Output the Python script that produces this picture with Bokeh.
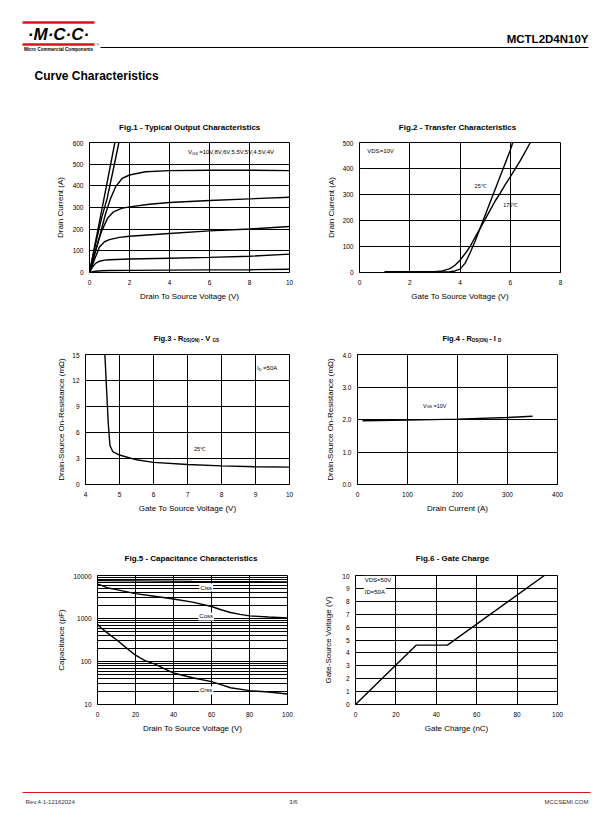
from bokeh.plotting import figure
from bokeh.models import Range1d, Label, FixedTicker, PrintfTickFormatter
from bokeh.layouts import column, row
from bokeh.embed import file_html
from bokeh.resources import INLINE

FONT = "Liberation Sans"

# ---------------- data ----------------
# Fig.1 Typical output characteristics (VDS in V, ID in A)
f1_xticks = [0, 2, 4, 6, 8, 10]
f1_yticks = [0, 100, 200, 300, 400, 500, 600]
vds_10v = [0, 0.6, 1.27]
id_10v = [0, 282, 600]
vds_8v = [0, 0.3, 0.6, 0.88, 1.2, 1.47]
id_8v = [0, 130, 250, 341, 480, 600]
vds_6v = [0, 0.5, 0.8, 1.05, 1.3, 1.63, 2, 2.8, 4, 6, 8, 10]
id_6v = [0, 165, 270, 341, 395, 434, 450, 465, 470, 472, 472, 470]
vds_55v = [0, 0.3, 0.6, 0.9, 1.2, 1.6, 2, 3, 4, 6, 8, 10]
id_55v = [0, 100, 190, 250, 280, 296, 303, 315, 323, 332, 340, 347]
vds_5v = [0, 0.25, 0.5, 0.75, 1, 1.5, 2, 4, 6, 8, 10]
id_5v = [0, 60, 118, 142, 152, 162, 167, 180, 192, 201, 212]
vds_45v = [0, 0.15, 0.3, 0.5, 0.75, 1, 2, 4, 6, 8, 10]
id_45v = [0, 25, 42, 52, 57, 59, 62, 66, 70, 75, 85]
vds_4v = [0, 0.3, 0.6, 1, 2, 4, 6, 8, 10]
id_4v = [0, 6, 8, 9, 10, 11, 12, 13, 15]

# Fig.2 Transfer characteristics (VGS in V, ID in A)
f2_xticks = [0, 2, 4, 6, 8]
f2_yticks = [0, 100, 200, 300, 400, 500]
vgs_25c = [1, 3, 3.6, 3.8, 4.0, 4.2, 4.4, 4.6, 4.8, 5.0, 5.2, 5.4, 5.6, 5.8, 6.0, 6.1]
id_25c = [2, 2, 3, 6, 13, 35, 75, 120, 170, 220, 270, 320, 370, 420, 470, 500]
vgs_175c = [1, 3, 3.3, 3.6, 3.8, 4.0, 4.2, 4.4, 4.6, 4.8, 5.0, 5.2, 5.4, 5.6, 5.8, 6.0, 6.4, 6.8]
id_175c = [3, 3, 6, 15, 28, 47, 72, 100, 135, 170, 205, 240, 275, 305, 338, 368, 430, 500]

# Fig.3 RDS(ON) vs VGS (V, mOhm)
f3_xticks = [4, 5, 6, 7, 8, 9, 10]
f3_yticks = [0, 3, 6, 9, 12, 15]
f3_vgs = [4.57, 4.62, 4.67, 4.72, 4.8, 5.0, 5.5, 6, 7, 8, 9, 10]
f3_rds = [15, 11, 7, 4.5, 3.8, 3.4, 2.85, 2.55, 2.3, 2.15, 2.05, 2.0]

# Fig.4 RDS(ON) vs ID (A, mOhm)
f4_xticks = [0, 100, 200, 300, 400]
f4_yticks = [0, 1, 2, 3, 4]
f4_id = [10, 100, 200, 300, 350]
f4_rds = [1.96, 1.98, 2.01, 2.06, 2.1]

# Fig.5 Capacitance (VDS in V, pF)
f5_xticks = [0, 20, 40, 60, 80, 100]
f5_yticks = [10, 100, 1000, 10000]
ciss_v = [0, 20, 50, 100]
ciss_pf = [7600, 7500, 7300, 7100]
coss_v = [0, 5, 10, 20, 30, 40, 50, 60, 65, 70, 75, 80, 90, 100]
coss_pf = [6400, 5200, 4700, 3800, 3300, 2850, 2400, 1900, 1600, 1380, 1250, 1150, 1080, 1030]
crss_v = [0, 2, 5, 10, 15, 20, 25, 30, 35, 40, 50, 60, 65, 70, 80, 90, 100]
crss_pf = [730, 600, 470, 320, 210, 140, 105, 88, 68, 54, 42, 34, 29, 24.5, 21, 19.5, 17.5]

# Fig.6 Gate charge (nC, V)
f6_xticks = [0, 20, 40, 60, 80, 100]
f6_yticks = list(range(0, 11))
qg_nc = [0, 30, 45.5, 93.5]
vgs_v = [0, 4.6, 4.6, 10]

# ---------------- text metrics (Arial-like, per 1000 em) ----------------
W_NORMAL = {"V": 667, "G": 778, "S": 667, "D": 722, "I": 278, "=": 584, ",": 278,
            ".": 278, "A": 667, " ": 278, "-": 333}
W_BOLD = {"F": 611, "i": 278, "g": 611, ".": 278, " ": 278, "-": 333, "R": 722,
          "D": 722, "S": 667, "(": 333, ")": 333, "O": 778, "N": 722, "V": 667,
          "G": 778, "I": 278}


def text_w(t, size, bold):
    tab = W_BOLD if bold else W_NORMAL
    return sum(tab.get(c, 556) for c in t) * size / 1000.0


def add_text(p, x, y, text, size, bold=False, align="left", units="data",
             xo=0, yo=0, bg=None, color="black", italic=False):
    style = "bold" if bold else "normal"
    if italic:
        style = "bold italic" if bold else "italic"
    lab = Label(x=x, y=y, x_units=units, y_units=units, text=text,
                text_font=FONT, text_font_size=f"{size}px", text_font_style=style,
                text_align=align, text_baseline="middle", x_offset=xo, y_offset=yo,
                text_color=color)
    if bg is not None:
        lab.background_fill_color = bg
        lab.padding = 1
    p.add_layout(lab)


def add_composite(p, x, y, pieces, units="data", align="left"):
    # subscript pieces (dy != 0) get a little extra room after them
    widths = [text_w(t, s, b) + (1.3 if dy else 0) for (t, s, b, dy) in pieces]
    off = -sum(widths) / 2.0 if align == "center" else 0.0
    for (t, s, b, dy), w in zip(pieces, widths):
        add_text(p, x, y, t, s, b, "left", units, xo=off, yo=dy)
        off += w


def make_fig(w, h, left, right, top, bottom, xr, yr, xticks, yticks, xlabel, ylabel,
             ystand, y_log=False):
    p = figure(width=w, height=h, x_range=Range1d(*xr), y_range=Range1d(*yr),
               y_axis_type="log" if y_log else "linear",
               output_backend="svg", toolbar_location=None, title=None,
               min_border_left=left, min_border_right=right,
               min_border_top=top, min_border_bottom=bottom)
    p.outline_line_color = "black"
    p.outline_line_width = 1
    p.outline_line_alpha = 1
    p.border_fill_color = "white"
    p.background_fill_color = "white"
    p.xaxis.ticker = FixedTicker(ticks=xticks)
    if y_log:
        minors = [m * 10 ** k for k in range(1, 4) for m in range(2, 10)]
        p.yaxis.ticker = FixedTicker(ticks=yticks, minor_ticks=minors)
        p.yaxis.formatter = PrintfTickFormatter(format="%d")
    else:
        p.yaxis.ticker = FixedTicker(ticks=yticks)
    for ax in p.axis:
        ax.major_tick_out = 0
        ax.major_tick_in = 0
        ax.minor_tick_out = 0
        ax.minor_tick_in = 0
        ax.major_tick_line_color = None
        ax.minor_tick_line_color = None
        ax.axis_line_color = "black"
        ax.major_label_text_font = FONT
        ax.major_label_text_font_size = "6.5px"
        ax.major_label_text_color = "black"
        ax.axis_label_text_font = FONT
        ax.axis_label_text_font_size = "8px"
        ax.axis_label_text_font_style = "normal"
        ax.axis_label_text_color = "black"
    p.xaxis.axis_label = xlabel
    p.yaxis.axis_label = ylabel
    p.xaxis.major_label_standoff = 7
    p.xaxis.axis_label_standoff = 4
    p.yaxis.major_label_standoff = 6
    p.yaxis.axis_label_standoff = ystand
    p.grid.grid_line_color = "black"
    p.grid.grid_line_width = 1
    p.grid.grid_line_alpha = 1
    if y_log:
        p.ygrid.minor_grid_line_color = "black"
        p.ygrid.minor_grid_line_width = 1
    return p


def blank(w, x0, y0, y1):
    """Figure whose data coordinates are page pixels (x0..x0+w, y0..y1 downwards)."""
    p = figure(width=w, height=y1 - y0, x_range=Range1d(x0, x0 + w), y_range=Range1d(y1, y0),
               output_backend="svg", toolbar_location=None, title=None,
               x_axis_location=None, y_axis_location=None,
               min_border_left=0, min_border_right=0, min_border_top=0, min_border_bottom=0)
    p.outline_line_color = None
    p.grid.visible = False
    p.border_fill_color = "white"
    p.background_fill_color = "white"
    return p


LW = 1.4

# ---------------- row 1 ----------------
t1 = blank(306, 0, 100, 140)
add_text(t1, 189.2, 126.7, "Fig.1 - Typical Output Characteristics", 8, True, "center")
t2 = blank(298, 306, 100, 140)
add_text(t2, 457, 126.7, "Fig.2 - Transfer Characteristics", 8, True, "center")

p1 = make_fig(306, 180, 89, 17, 2, 48, (0, 10), (0, 600), f1_xticks, f1_yticks,
              "Drain To Source Voltage (V)", "Drain Current (A)", 5)
for xs, ys in [(vds_10v, id_10v), (vds_8v, id_8v), (vds_6v, id_6v), (vds_55v, id_55v),
               (vds_5v, id_5v), (vds_45v, id_45v), (vds_4v, id_4v)]:
    p1.line(xs, ys, line_color="black", line_width=LW)
add_composite(p1, 4.93, 558, [("V", 6, False, 0), ("GS", 4, False, -1.5),
                              ("=10V,8V,6V,5.5V,5V,4.5V,4V", 6, False, 0)])

p2 = make_fig(298, 180, 53, 44, 2, 48, (0, 8), (0, 500), f2_xticks, f2_yticks,
              "Gate To Source Voltage (V)", "Drain Current (A)", 4)
p2.line(vgs_25c, id_25c, line_color="black", line_width=LW)
p2.line(vgs_175c, id_175c, line_color="black", line_width=LW)
add_text(p2, 0.31, 469, "VDS=10V", 6)
add_text(p2, 4.58, 332, "25\u2103", 5.5)
add_text(p2, 5.72, 260, "175\u2103", 5.5)

# ---------------- row 2 ----------------
t3 = blank(306, 0, 320, 352)
add_composite(t3, 186.5, 338.3, [("Fig.3 - R", 7.5, True, 0), ("DS(ON)", 4.5, True, -2),
                                 (" - V", 7.5, True, 0), ("GS", 4.5, True, -2)], align="center")
t4 = blank(298, 306, 320, 352)
add_composite(t4, 472, 338.3, [("Fig.4 - R", 7.5, True, 0), ("DS(ON)", 4.5, True, -2),
                               (" - I", 7.5, True, 0), ("D", 4.5, True, -2)], align="center")

p3 = make_fig(306, 188, 85, 17, 2, 56, (4, 10), (0, 15), f3_xticks, f3_yticks,
              "Gate To Source Voltage (V)", "Drain-Source On-Resistance (m\u03a9)", 3)
p3.line(f3_vgs, f3_rds, line_color="black", line_width=LW)
add_composite(p3, 171.7, 116.7, [("I", 6, False, 0), ("D", 4, False, -1.5),
                                 ("=50A", 6, False, 0)], units="screen")
add_text(p3, 7.19, 4.12, "25\u2103", 5.5)

p4 = make_fig(298, 188, 51, 47, 2, 56, (0, 400), (0, 4), f4_xticks, f4_yticks,
              "Drain Current (A)", "Drain-Source On-Resistance (m\u03a9)", 4)
p4.yaxis.formatter = PrintfTickFormatter(format="%.1f")
p4.line(f4_id, f4_rds, line_color="black", line_width=LW)
add_composite(p4, 131, 2.43, [("V", 5.5, False, 0), ("GS", 3.8, False, -1.5),
                              ("=10V", 5.5, False, 0)])

# ---------------- row 3 ----------------
t5 = blank(306, 0, 540, 573)
add_text(t5, 190.5, 558.3, "Fig.5 - Capacitance Characteristics", 8, True, "center")
t6 = blank(298, 306, 540, 573)
add_text(t6, 452, 558.3, "Fig.6 - Gate Charge", 8, True, "center")

p5 = make_fig(306, 187, 97, 19, 2, 56, (0, 100), (10, 10000), f5_xticks, f5_yticks,
              "Drain To Source Voltage (V)", "Capacitance (pF)", 4, y_log=True)
p5.line(ciss_v, ciss_pf, line_color="black", line_width=LW)
p5.line(coss_v, coss_pf, line_color="black", line_width=LW)
p5.line(crss_v, crss_pf, line_color="black", line_width=LW)
add_text(p5, 57.2, 5250, "Ciss", 6, align="center", bg="white")
add_text(p5, 57.2, 1115, "Coss", 6, align="center", bg="white")
add_text(p5, 57.2, 21.2, "Crss", 6, align="center", bg="white")

p6 = make_fig(298, 187, 49, 47, 1, 56, (0, 100), (0, 10), f6_xticks, f6_yticks,
              "Gate Charge (nC)", "Gate-Source Voltage (V)", 6)
p6.line(qg_nc, vgs_v, line_color="black", line_width=LW)
add_text(p6, 4.1, 9.67, "VDS=50V", 6, bg="white")
add_text(p6, 4.1, 8.72, "ID=50A", 6, bg="white")

# ---------------- header & footer (page pixel coordinates) ----------------
RED = "#d7141a"
hdr = blank(604, 0, 0, 100)
hdr.quad(left=[22], right=[94], top=[20.8], bottom=[23.2], fill_color=RED, line_color=None)
hdr.quad(left=[22], right=[94], top=[42.8], bottom=[45.2], fill_color=RED, line_color=None)
add_text(hdr, 58, 33.5, "\u00b7M\u00b7C\u00b7C\u00b7", 17, True, "center", italic=True)
add_text(hdr, 58, 49, "Micro Commercial Components", 4.6, True, "center")
add_text(hdr, 96, 44.5, "\u00ae", 3.5)
hdr.line([100, 588], [47, 47], line_color="black", line_width=1)
add_text(hdr, 588, 38, "MCTL2D4N10Y", 11.5, True, "right")
add_text(hdr, 34, 75, "Curve Characteristics", 12, True, "left")

ftr = blank(604, 0, 760, 817)
ftr.line([22, 590], [792, 792], line_color=RED, line_width=1.2)
add_text(ftr, 25, 801, "Rev.4-1-12162024", 6, color="#333333")
add_text(ftr, 293, 801, "3/6", 6, align="center", color="#333333")
add_text(ftr, 588, 801, "MCCSEMI.COM", 6, align="right", color="#333333")

layout = column(hdr,
                row(t1, t2, spacing=0), row(p1, p2, spacing=0),
                row(t3, t4, spacing=0), row(p3, p4, spacing=0),
                row(t5, t6, spacing=0), row(p5, p6, spacing=0),
                ftr, spacing=0)

open("out.html", "w").write(file_html(layout, INLINE))
